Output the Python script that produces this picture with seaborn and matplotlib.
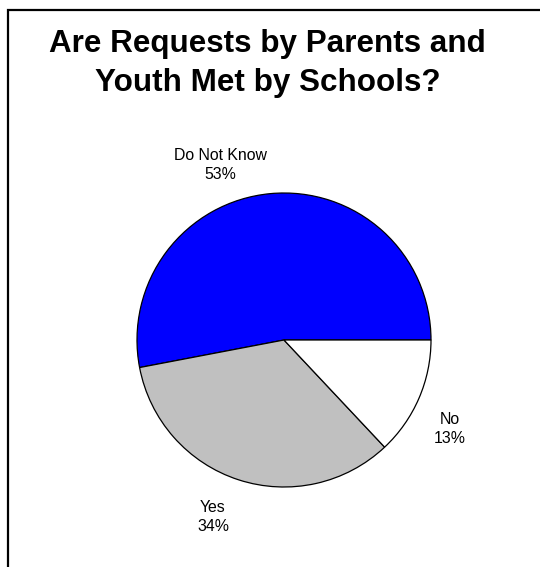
import matplotlib
matplotlib.use("Agg")
import matplotlib.pyplot as plt
import seaborn as sns
from matplotlib.patches import Rectangle

categories = ["Do Not Know", "Yes", "No"]
values = [53, 34, 13]
colors = ["#0000FF", "#C0C0C0", "#FFFFFF"]
title_lines = ["Are Requests by Parents and", "Youth Met by Schools?"]

sns.set_theme(style="white")
plt.rcParams['font.family'] = ['Liberation Sans', 'DejaVu Sans']

W, H = 540, 567
fig = plt.figure(figsize=(W / 100, H / 100), dpi=100)
fig.patch.set_facecolor("white")

# pie center (284, 340) px, radius 147 px
L = 1.2
side = 147 * 2 * L
cx, cy = 284, 340
ax = fig.add_axes([(cx - side / 2) / W, (H - cy - side / 2) / H, side / W, side / H])

ax.pie(values, colors=colors, startangle=0, counterclock=True,
       wedgeprops=dict(edgecolor="black", linewidth=0.9))
ax.set_xlim(-L, L)
ax.set_ylim(-L, L)
ax.set_aspect("equal")
ax.axis("off")

# label positions (px in figure) -> data coords
label_px = [(220, 165), (213, 517), (450, 429)]
for cat, val, (px, py) in zip(categories, values, label_px):
    x = (px - cx) / 147
    y = (cy - py) / 147
    ax.text(x, y, f"{cat}\n{val}%", ha="center", va="center", fontsize=11.4,
            color="black", linespacing=1.3, clip_on=False)

fig.text(0.4954, 1 - 52 / H, title_lines[0], ha="center", va="baseline",
         fontsize=22.6, fontweight="bold", color="black")
fig.text(0.4954, 1 - 91 / H, title_lines[1], ha="center", va="baseline",
         fontsize=22.6, fontweight="bold", color="black")

# frame (right and bottom edges fall outside the image)
fig.patches.append(Rectangle((7.5 / W, -0.1), 1.2, 1 - 10 / H + 0.1,
                             transform=fig.transFigure, fill=False,
                             edgecolor="black", linewidth=1.6))

fig.savefig("out.png", dpi=100)
